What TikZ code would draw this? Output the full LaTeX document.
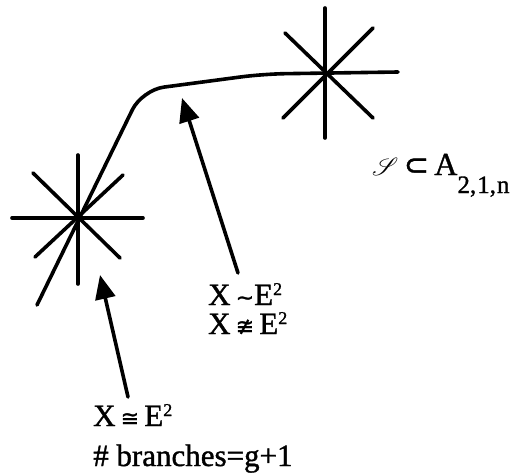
\RequirePackage{fix-cm}
\documentclass[tikz,border=0pt]{standalone}
\usepackage{fontspec}
\setmainfont[FakeBold=1.2]{Liberation Serif}
\newfontfamily\symf[FakeBold=1.2]{DejaVu Sans}
\usepackage{mathrsfs}
\usetikzlibrary{arrows.meta}
\newcommand\supii{\raisebox{10pt}{\fontsize{18}{18}\selectfont 2}}
\newcommand\symb[1]{{\symf\fontsize{22}{22}\selectfont #1}}
\begin{document}
\begin{tikzpicture}[x=1pt,y=-1pt,
  stroke/.style={line width=3.6pt, line cap=round},
  pointer/.style={stroke, -{Triangle[length=24pt,width=20pt]}},
  lbl/.style={anchor=base west, inner sep=0pt, font=\fontsize{31}{31}\selectfont}]
\useasboundingbox (0,0) rectangle (525,474);
% star centres
\coordinate (L) at (78,218);
\coordinate (R) at (325,75);
% curve through both stars
\coordinate (c0) at (37,305);
\coordinate (c1) at (142,90);
\coordinate (c2) at (263,74);
\coordinate (c3) at (398,72);
\draw[stroke, rounded corners=22pt] (c0) -- (c1) -- (c2) -- (c3);
% left star
\draw[stroke] (L) ++(-66,0) -- ++(131,0);
\draw[stroke] (L) ++(0,-63) -- ++(0,129);
\draw[stroke] (L) ++(-45,-45) -- ++(87,85);
\draw[stroke] (L) ++(-43,39) -- ++(88,-82);
% right star
\draw[stroke] (R) ++(0,-67) -- ++(0,130);
\draw[stroke] (R) ++(-40,-42) -- ++(88,85);
\draw[stroke] (R) ++(-42,43) -- ++(90,-90);
% labels
\node[lbl] (l1a) at (93,426) {X\,\symb{≅}\,E\supii};
\node[lbl] (l1b) at (93,466) {\# branches=g+1};
\node[lbl] (l2a) at (208,305) {X\,\symb{∼}E\supii};
\node[lbl] (l2b) at (208,334) {X\,\symb{≇}\,E\supii};
\node[lbl, font=\fontsize{32}{32}\selectfont] (l3) at (372,175) {$\mathscr{S}$\,{\symf\fontsize{30}{30}\selectfont ⊂}\,A\raisebox{-18pt}{\fontsize{25}{25}\selectfont 2,\kern1pt1,\kern1pt n}};
% pointers
\coordinate (t1) at (128,397);
\coordinate (h1) at (100,275);
\coordinate (t2) at (238,273);
\coordinate (h2) at (182,98);
\draw[pointer] (t1) -- (h1);
\draw[pointer] (t2) -- (h2);
\end{tikzpicture}
\end{document}
